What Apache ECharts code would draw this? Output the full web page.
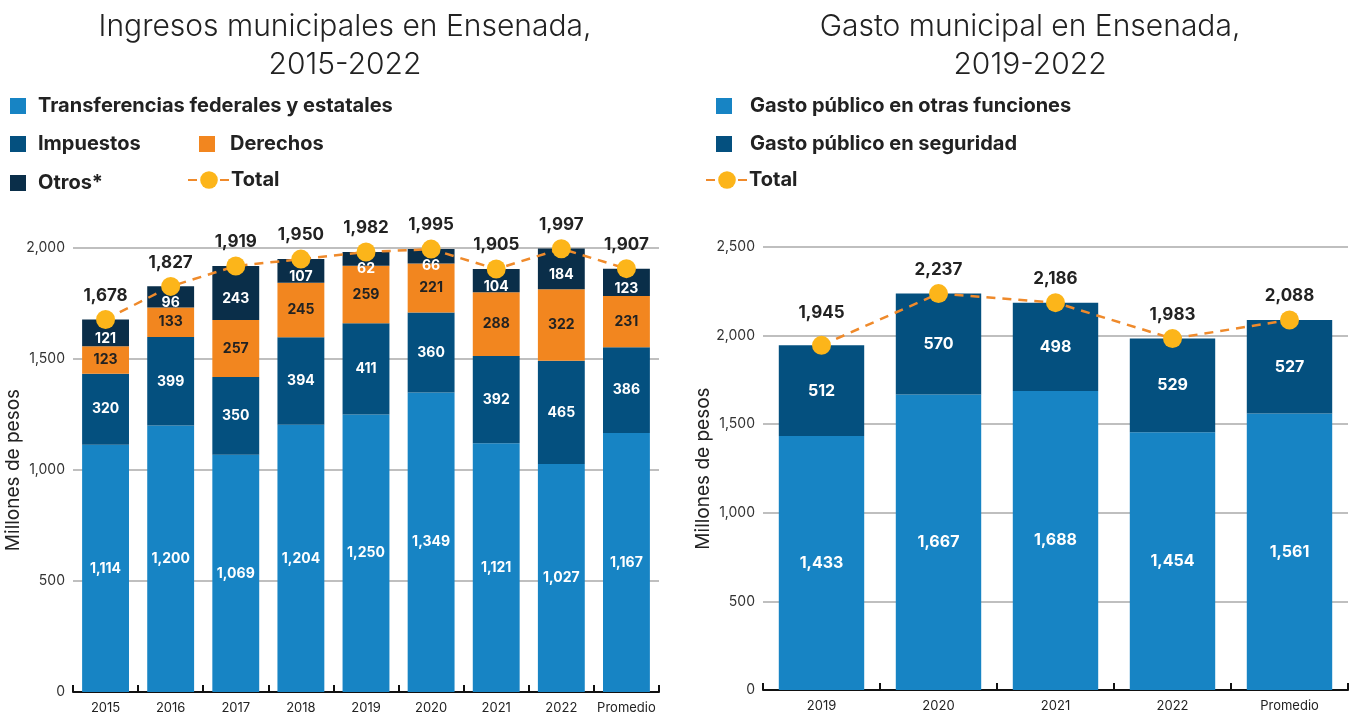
<!DOCTYPE html>
<html>
<head>
<meta charset="utf-8">
<script src="https://cdn.jsdelivr.net/npm/echarts@6/dist/echarts.min.js"></script>
<style>
  html, body { margin: 0; padding: 0; background: #fff; }
  #main { width: 1352px; height: 719px; }
</style>
</head>
<body>
<div id="main"></div>
<script>
// ingresos 2015-2022
var years1 = ['2015', '2016', '2017', '2018', '2019', '2020', '2021', '2022', 'Promedio'];
var transferencias = [1114, 1200, 1069, 1204, 1250, 1349, 1121, 1027, 1167];
var impuestos = [320, 399, 350, 394, 411, 360, 392, 465, 386];
var derechos = [123, 133, 257, 245, 259, 221, 288, 322, 231];
var otros = [121, 96, 243, 107, 62, 66, 104, 184, 123];
var total1 = [1678, 1827, 1919, 1950, 1982, 1995, 1905, 1997, 1907];

// gasto 2019-2022
var years2 = ['2019', '2020', '2021', '2022', 'Promedio'];
var otrasFunciones = [1433, 1667, 1688, 1454, 1561];
var seguridad = [512, 570, 498, 529, 527];
var total2 = [1945, 2237, 2186, 1983, 2088];

var FONT = 'Inter, "Noto Sans", sans-serif';
var cLight = '#1784c4', cDark = '#04507f', cOrange = '#f2861f', cNavy = '#0a2e49';
var cYellow = '#fcb51a', cLine = '#ef8a2b';

function fmt(p) { return Number(p.value).toLocaleString('en-US'); }

function segLabel(color) {
    return {
        show: true, position: 'inside', color: color, fontFamily: FONT,
        fontWeight: 'bold', fontSize: 14, formatter: fmt
    };
}

function barSeries(name, data, color, labelColor, xi, bw) {
    return {
        name: name, type: 'bar', stack: 's' + xi, xAxisIndex: xi, yAxisIndex: xi,
        data: data, barWidth: bw, itemStyle: { color: color },
        label: segLabel(labelColor)
    };
}

function totalSeries(data, xi) {
    return {
        name: 'Total', type: 'line', xAxisIndex: xi, yAxisIndex: xi, data: data,
        symbol: 'circle', symbolSize: 19, z: 10,
        itemStyle: { color: cYellow },
        lineStyle: { color: cLine, width: 2.5, type: [9, 7] },
        label: {
            show: true, position: 'top', distance: 6, color: '#222', fontFamily: FONT,
            fontWeight: 'bold', fontSize: 17, formatter: fmt
        }
    };
}

function legendAt(name, left, top, isLine, gap) {
    var lg = {
        data: [name], left: left, top: top, orient: 'horizontal', padding: 0,
        selectedMode: false, itemGap: 0,
        textStyle: { fontFamily: FONT, fontWeight: 'bold', fontSize: 20, color: '#222', padding: [0, 0, 0, gap || 7] }
    };
    if (isLine) {
        lg.itemWidth = 42; lg.itemHeight = 22;
        lg.textStyle.padding = [0, 0, 0, -4];
    } else {
        lg.itemWidth = 16; lg.itemHeight = 16; lg.icon = 'rect';
    }
    return lg;
}

function xAxisOf(data, gi) {
    return {
        type: 'category', gridIndex: gi, data: data,
        axisLine: { lineStyle: { color: '#111', width: 2 } },
        axisTick: { show: true, inside: true, length: 7, lineStyle: { color: '#111', width: 2 } },
        axisLabel: { color: '#222', fontFamily: FONT, fontSize: 13, margin: 10, interval: 0 }
    };
}

function yAxisOf(max, gi, gap) {
    return {
        type: 'value', gridIndex: gi, min: 0, max: max, interval: 500,
        name: 'Millones de pesos', nameLocation: 'middle', nameGap: gap,
        nameTextStyle: { fontFamily: FONT, fontSize: 19, color: '#222' },
        axisLine: { show: false }, axisTick: { show: false },
        axisLabel: { color: '#333', fontFamily: FONT, fontSize: 14, margin: 8,
            formatter: function (v) { return v.toLocaleString('en-US'); } },
        splitLine: { lineStyle: { color: '#aaa', width: 1.5 } }
    };
}

var totals2 = totalSeries(total2, 1);
totals2.data = total2.map(function (v, i) {
    return i === 0 ? { value: v, label: { distance: 14 } } : v;
});

// etiquetas de "Otros" un poco abajo, para que no las tape el punto del total
var otrosSeries = barSeries('Otros*', otros, cNavy, '#fff', 0, '72%');
otrosSeries.data = otros.map(function (v) {
    return { value: v, label: { offset: [0, v < 70 ? 10 : 6] } };
});

var option = {
    animation: false,
    title: [{
        text: 'Ingresos municipales en Ensenada,\n2015-2022', left: 340, top: 3, textAlign: 'center',
        textStyle: { fontFamily: FONT, fontWeight: 300, fontSize: 30, lineHeight: 38, color: '#222' }
    }, {
        text: 'Gasto municipal en Ensenada,\n2019-2022', left: 1025, top: 3, textAlign: 'center',
        textStyle: { fontFamily: FONT, fontWeight: 300, fontSize: 30, lineHeight: 38, color: '#222' }
    }],
    legend: [
        legendAt('Transferencias federales y estatales', 10, 96),
        legendAt('Impuestos', 10, 134),
        legendAt('Derechos', 199, 134, false, 10),
        legendAt('Otros*', 10, 173),
        legendAt('Total', 187, 170, true),
        legendAt('Gasto público en otras funciones', 716, 96, false, 13),
        legendAt('Gasto público en seguridad', 716, 134, false, 13),
        legendAt('Total', 705, 170, true)
    ],
    grid: [
        { left: 73, right: 693, top: 248, bottom: 27 },
        { left: 763, right: 4, top: 247, bottom: 29 }
    ],
    xAxis: [xAxisOf(years1, 0), xAxisOf(years2, 1)],
    yAxis: [yAxisOf(2000, 0, 43), yAxisOf(2500, 1, 44)],
    series: [
        barSeries('Transferencias federales y estatales', transferencias, cLight, '#fff', 0, '72%'),
        barSeries('Impuestos', impuestos, cDark, '#fff', 0, '72%'),
        barSeries('Derechos', derechos, cOrange, '#222', 0, '72%'),
        otrosSeries,
        totalSeries(total1, 0),
        barSeries('Gasto público en otras funciones', otrasFunciones, cLight, '#fff', 1, '73%'),
        barSeries('Gasto público en seguridad', seguridad, cDark, '#fff', 1, '73%'),
        totals2
    ]
};
option.series[5].label.fontSize = 16;
option.series[6].label.fontSize = 16;

var myChart = echarts.init(document.getElementById('main'));
myChart.setOption(option);
</script>
</body>
</html>
